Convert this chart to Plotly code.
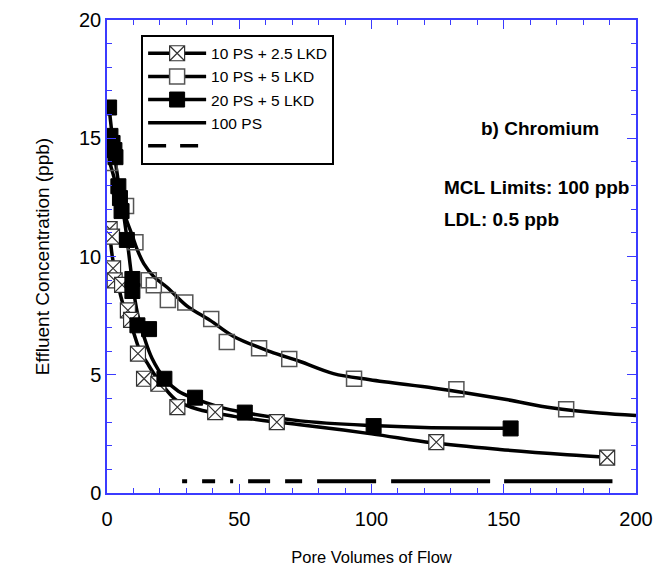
import plotly.graph_objects as go

# ---- data ----
# 10 PS + 2.5 LKD (crossed squares)
x_cross = [1.0, 1.9, 2.3, 2.9, 5.7, 7.9, 9.1, 11.7, 14.0, 19.4, 26.6, 40.9, 64.2, 124.5, 189.1]
y_cross = [11.16, 10.84, 9.5, 8.99, 8.8, 7.72, 7.32, 5.89, 4.83, 4.62, 3.63, 3.42, 3.0, 2.15, 1.50]
fit_x_cross = [1.0, 2.0, 4.0, 6.0, 8.0, 10.0, 12.5, 15.2, 18.0, 21.4, 26.5, 34.0, 48.0, 64.0, 73.0, 100.0, 123.0, 148.5, 174.0, 191.0]
fit_y_cross = [11.1, 10.0, 8.9, 8.0, 7.4, 6.8, 6.0, 5.5, 5.0, 4.5, 3.9, 3.55, 3.24, 3.0, 2.89, 2.5, 2.12, 1.84, 1.62, 1.5]

# 10 PS + 5 LKD (open squares)
x_open = [1.0, 7.2, 10.75, 15.8, 17.7, 23.0, 29.6, 39.4, 45.3, 57.5, 68.9, 93.4, 132.1, 173.6]
y_open = [13.95, 12.14, 10.6, 9.0, 8.78, 8.16, 8.06, 7.36, 6.39, 6.12, 5.67, 4.83, 4.39, 3.54]
fit_x_open = [1.0, 3.0, 5.0, 7.5, 9.5, 11.4, 13.9, 17.7, 22.7, 30.3, 39.0, 47.9, 61.7, 73.0, 85.6, 99.4, 123.3, 135.9, 151.0, 168.6, 186.2, 200.0]
fit_y_open = [14.0, 13.2, 12.3, 11.5, 10.9, 10.3, 9.7, 9.15, 8.7, 7.9, 7.3, 6.62, 5.98, 5.56, 5.05, 4.79, 4.44, 4.23, 3.95, 3.59, 3.38, 3.28]

# 20 PS + 5 LKD (filled squares)
x_fill = [0.8, 1.3, 2.1, 2.8, 3.2, 4.3, 4.9, 5.5, 7.5, 9.6, 9.6, 11.5, 15.9, 21.7, 33.3, 52.1, 100.8, 152.6]
y_fill = [16.3, 15.1, 14.8, 14.5, 14.2, 12.97, 12.47, 11.92, 10.7, 9.05, 8.54, 7.09, 6.93, 4.83, 4.03, 3.4, 2.83, 2.73]
fit_x_fill = [0.8, 2.5, 4.5, 6.0, 7.5, 9.5, 11.5, 14.0, 17.0, 21.7, 27.0, 33.0, 42.0, 52.0, 73.0, 100.0, 120.0, 153.0]
fit_y_fill = [16.3, 14.6, 13.0, 12.0, 10.8, 9.0, 7.6, 6.6, 5.7, 4.85, 4.3, 4.0, 3.65, 3.4, 3.05, 2.85, 2.77, 2.74]

# detection-limit line (LDL 0.5 ppb)
x_ldl = [28.4, 191.1]
y_ldl = [0.5, 0.5]

x_ticks = [0, 50, 100, 150, 200]
y_ticks = [0, 5, 10, 15, 20]

FONT = "Arial, Liberation Sans, sans-serif"
BLUE = "#3b3bff"
LDL_DASH = "5px,15px,13px,15px,3px,15px,22px,15px,17px,15px,59px,15px,99px,14px,110px,20px"

fig = go.Figure()

curve = dict(color="black", width=3.5, shape="spline")
fig.add_trace(go.Scatter(x=fit_x_open, y=fit_y_open, mode="lines", line=curve, showlegend=False, hoverinfo="skip"))
fig.add_trace(go.Scatter(x=fit_x_cross, y=fit_y_cross, mode="lines", line=curve, showlegend=False, hoverinfo="skip"))
fig.add_trace(go.Scatter(x=fit_x_fill, y=fit_y_fill, mode="lines", line=curve, showlegend=False, hoverinfo="skip"))
fig.add_trace(go.Scatter(x=x_ldl, y=y_ldl, mode="lines", line=dict(color="black", width=4, dash=LDL_DASH),
                         showlegend=False, hoverinfo="skip"))

m_open = dict(symbol="square-open", size=15, color="#555555", line=dict(width=1.5, color="#555555"))
m_cross = dict(symbol="square-x", size=15, color="white", line=dict(width=1.2, color="#333333"))
m_fill = dict(symbol="square", size=15, color="black", line=dict(width=1, color="black"))

fig.add_trace(go.Scatter(x=x_open, y=y_open, mode="markers", marker=m_open, showlegend=False))
fig.add_trace(go.Scatter(x=x_cross, y=y_cross, mode="markers", marker=m_cross, showlegend=False))
fig.add_trace(go.Scatter(x=x_fill, y=y_fill, mode="markers", marker=m_fill, showlegend=False))

# legend entries
leg_line = dict(color="black", width=3.5)
fig.add_trace(go.Scatter(x=[None], y=[None], mode="lines+markers", name="10 PS + 2.5 LKD", line=leg_line, marker=m_cross))
fig.add_trace(go.Scatter(x=[None], y=[None], mode="lines+markers", name="10 PS + 5 LKD", line=leg_line,
                         marker=dict(symbol="square", size=15, color="white", line=dict(width=1.5, color="#555555"))))
fig.add_trace(go.Scatter(x=[None], y=[None], mode="lines+markers", name="20 PS + 5 LKD", line=leg_line, marker=m_fill))
fig.add_trace(go.Scatter(x=[None], y=[None], mode="lines", name="100 PS", line=leg_line))
fig.add_trace(go.Scatter(x=[None], y=[None], mode="lines", name=" ", line=dict(color="black", width=3.5, dash="18px,14px")))

axis_common = dict(
    showline=True, linecolor=BLUE, linewidth=1.5, mirror="ticks",
    ticks="inside", ticklen=9, tickwidth=1.2, tickcolor=BLUE,
    showgrid=False, zeroline=False,
    tickfont=dict(family=FONT, size=20, color="black"),
)

fig.update_xaxes(range=[0, 200], tickvals=x_ticks, ticktext=[str(v) for v in x_ticks],
                 minor=dict(dtick=10, ticks="inside", ticklen=5, tickcolor=BLUE, tickwidth=1.2, showgrid=False),
                 title=dict(text="Pore Volumes of Flow", font=dict(family=FONT, size=16.5, color="black"), standoff=23),
                 ticklabelstandoff=7,
                 **axis_common)
fig.update_yaxes(range=[0, 20], tickvals=y_ticks, ticktext=[str(v) for v in y_ticks],
                 minor=dict(dtick=1, ticks="inside", ticklen=5, tickcolor=BLUE, tickwidth=1.2, showgrid=False),
                 title=dict(text="Effluent Concentration (ppb)", font=dict(family=FONT, size=19, color="black"), standoff=24),
                 **axis_common)

fig.add_annotation(x=0.818, y=0.771, xref="paper", yref="paper", text="<b>b) Chromium</b>", showarrow=False,
                   xanchor="center", yanchor="middle", font=dict(family=FONT, size=19, color="black"))
fig.add_annotation(x=0.633, y=0.645, xref="paper", yref="paper", text="<b>MCL Limits: 100 ppb</b>", showarrow=False,
                   xanchor="left", yanchor="middle", font=dict(family=FONT, size=19, color="black"))
fig.add_annotation(x=0.633, y=0.579, xref="paper", yref="paper", text="<b>LDL: 0.5 ppb</b>", showarrow=False,
                   xanchor="left", yanchor="middle", font=dict(family=FONT, size=19, color="black"))

fig.update_layout(
    width=663, height=578,
    margin=dict(l=98.5, r=35, t=11.5, b=92.5, autoexpand=False),
    paper_bgcolor="white", plot_bgcolor="white",
    font=dict(family=FONT, color="black"),
    legend=dict(x=0.0645, y=0.969, xanchor="left", yanchor="top",
                bgcolor="white", bordercolor="black", borderwidth=2,
                font=dict(family=FONT, size=15.5, color="black"),
                tracegroupgap=0, itemwidth=58),
)

fig.write_html("out.html")
